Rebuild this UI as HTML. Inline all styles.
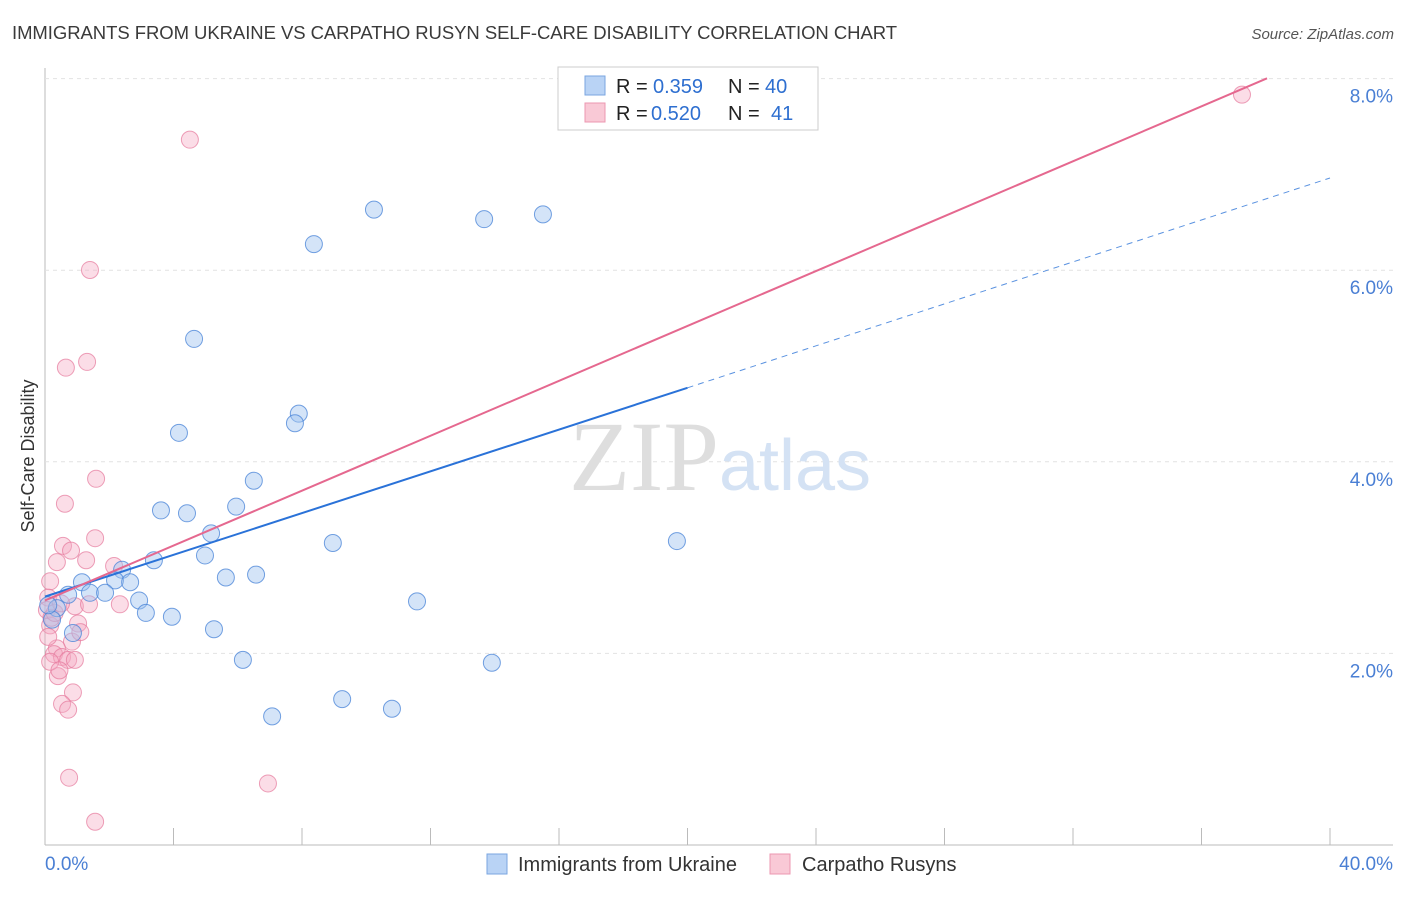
<!DOCTYPE html>
<html><head><meta charset="utf-8"><style>
body{margin:0;background:#fff;font-family:"Liberation Sans",sans-serif;}
svg text{font-family:"Liberation Sans",sans-serif;}
</style></head><body>
<svg id="chart" width="1406" height="892">
<text x="12" y="39" font-size="18.5" fill="#3a3a3a" textLength="885">IMMIGRANTS FROM UKRAINE VS CARPATHO RUSYN SELF-CARE DISABILITY CORRELATION CHART</text>
<text x="1394" y="39" font-size="15" fill="#555" text-anchor="end" font-style="italic">Source: ZipAtlas.com</text>
<text x="34" y="456" font-size="18" fill="#333" text-anchor="middle" transform="rotate(-90 34 456)">Self-Care Disability</text>
<g id="grid"></g>
<text x="720" y="490" font-size="100" fill="#e4e4e4" text-anchor="middle" font-family="Liberation Serif"><tspan fill="#dedede" font-family="Liberation Serif">ZIP</tspan><tspan fill="#d4e2f4" font-size="72" font-family="Liberation Sans">atlas</tspan></text>
<g id="marks"></g>
<g>
<rect x="558" y="67" width="260" height="63" fill="#fff" stroke="#ccc"/>
<rect x="585" y="76" width="20" height="19" fill="#b9d3f5" stroke="#7aa6e0"/>
<rect x="585" y="103" width="20" height="19" fill="#f9c9d6" stroke="#ec97b0"/>
<text x="616" y="93" font-size="20" fill="#222">R =</text>
<text x="653" y="93" font-size="20" fill="#2e6fd0">0.359</text>
<text x="728" y="93" font-size="20" fill="#222">N =</text>
<text x="765" y="93" font-size="20" fill="#2e6fd0">40</text>
<text x="616" y="120" font-size="20" fill="#222">R =</text>
<text x="651" y="120" font-size="20" fill="#2e6fd0">0.520</text>
<text x="728" y="120" font-size="20" fill="#222">N =</text>
<text x="771" y="120" font-size="20" fill="#2e6fd0">41</text>
</g>
<g>
<rect x="487" y="854" width="20" height="20" fill="#b9d3f5" stroke="#7aa6e0"/>
<text x="518" y="871" font-size="20" fill="#333">Immigrants from Ukraine</text>
<rect x="770" y="854" width="20" height="20" fill="#f9c9d6" stroke="#ec97b0"/>
<text x="802" y="871" font-size="20" fill="#333">Carpatho Rusyns</text>
</g>
<text x="45" y="870" font-size="19" fill="#4a7fd4">0.0%</text>
<text x="1393" y="870" font-size="19" fill="#4a7fd4" text-anchor="end">40.0%</text>
</svg>
<script>
const xTicks=[0,4,8,12,16,20,24,28,32,36,40];
const yTicks=[2,4,6,8];
const yTickLabels=["2.0%","4.0%","6.0%","8.0%"];
const ukraineX=[10.24,13.67,15.5,8.37,4.64,4.17,7.9,7.78,6.5,3.61,4.42,5.95,5.17,3.39,4.98,8.96,19.67,2.4,2.18,2.65,5.63,6.57,1.15,0.72,1.4,1.87,2.93,3.14,3.95,11.58,0.37,0.22,0.87,5.26,6.16,13.91,9.25,10.8,7.07,0.1];
const ukraineY=[6.81,6.71,6.76,6.45,5.46,4.48,4.68,4.58,3.98,3.67,3.64,3.71,3.43,3.15,3.2,3.33,3.35,3.05,2.94,2.92,2.97,3.0,2.92,2.79,2.81,2.81,2.73,2.6,2.56,2.72,2.65,2.53,2.39,2.43,2.11,2.08,1.7,1.6,1.52,2.68];
const rusynX=[37.26,4.51,1.4,1.31,0.65,1.59,0.62,1.56,0.56,0.81,0.37,1.28,2.15,0.16,0.1,0.93,2.33,1.37,1.03,0.16,0.84,0.37,0.28,0.53,0.72,0.93,0.4,0.87,0.53,0.72,0.75,6.94,1.56,0.06,0.16,0.2,0.3,0.5,0.1,1.1,0.45];
const rusynY=[8.01,7.54,6.18,5.22,5.16,4.0,3.74,3.38,3.3,3.25,3.13,3.15,3.09,2.93,2.76,2.67,2.69,2.69,2.49,2.47,2.3,2.23,2.17,2.14,2.11,2.11,1.94,1.77,1.65,1.59,0.88,0.82,0.42,2.63,2.09,2.55,2.6,2.7,2.35,2.4,2.0];
const ukraineTrend=[2.77,4.95,7.14]; // at x=0,20,40
const rusynTrend=[2.73,8.18];
const rusynTrendX=[0,38.04];
const NS="http://www.w3.org/2000/svg";
const sx=v=>45+v*1285/40;
const sy=v=>862-v*95.8;
const grid=document.getElementById('grid'),marks=document.getElementById('marks');
function mk(tag,attrs,parent){const e=document.createElementNS(NS,tag);for(const k in attrs)e.setAttribute(k,attrs[k]);parent.appendChild(e);return e;}
let ax=mk('line',{x1:45,y1:68,x2:45,y2:845,stroke:'#bbb'},grid);


let bx=mk('line',{x1:45,y1:845,x2:1393,y2:845,stroke:'#bbb'},grid);


yTicks.forEach((t,i)=>{
 const g=mk('line',{x1:45,y1:sy(t)-17,x2:1393,y2:sy(t)-17,stroke:'#e2e2e2','stroke-dasharray':'4 4'},grid);
 
 
 const tx=mk('text',{x:1393,y:sy(t)+7,'font-size':19,fill:'#4a7fd4','text-anchor':'end'},grid);
 tx.textContent=yTickLabels[i];
 
 
});
xTicks.forEach(t=>{
 const l=mk('line',{x1:sx(t),y1:828,x2:sx(t),y2:845,stroke:'#bbb'},grid);
 
 
});
rusynX.forEach((x,i)=>{
 const c=mk('circle',{cx:sx(x),cy:sy(rusynY[i]),r:8.5,fill:'rgba(245,170,195,0.4)',stroke:'rgba(230,120,155,0.7)'},marks);
 
 
});
ukraineX.forEach((x,i)=>{
 const c=mk('circle',{cx:sx(x),cy:sy(ukraineY[i]),r:8.5,fill:'rgba(160,195,240,0.45)',stroke:'rgba(70,130,215,0.75)'},marks);
 
 
});
let l1=mk('line',{x1:sx(0),y1:sy(ukraineTrend[0]),x2:sx(20),y2:sy(ukraineTrend[1]),stroke:'#2a72d8','stroke-width':2},marks);


let l2=mk('line',{x1:sx(20),y1:sy(ukraineTrend[1]),x2:sx(40),y2:sy(ukraineTrend[2]),stroke:'#5a92e0','stroke-width':1,'stroke-dasharray':'6 5'},marks);


let l3=mk('line',{x1:sx(rusynTrendX[0]),y1:sy(rusynTrend[0]),x2:sx(rusynTrendX[1]),y2:sy(rusynTrend[1]),stroke:'#e5688f','stroke-width':2},marks);


</script>
</body></html>
